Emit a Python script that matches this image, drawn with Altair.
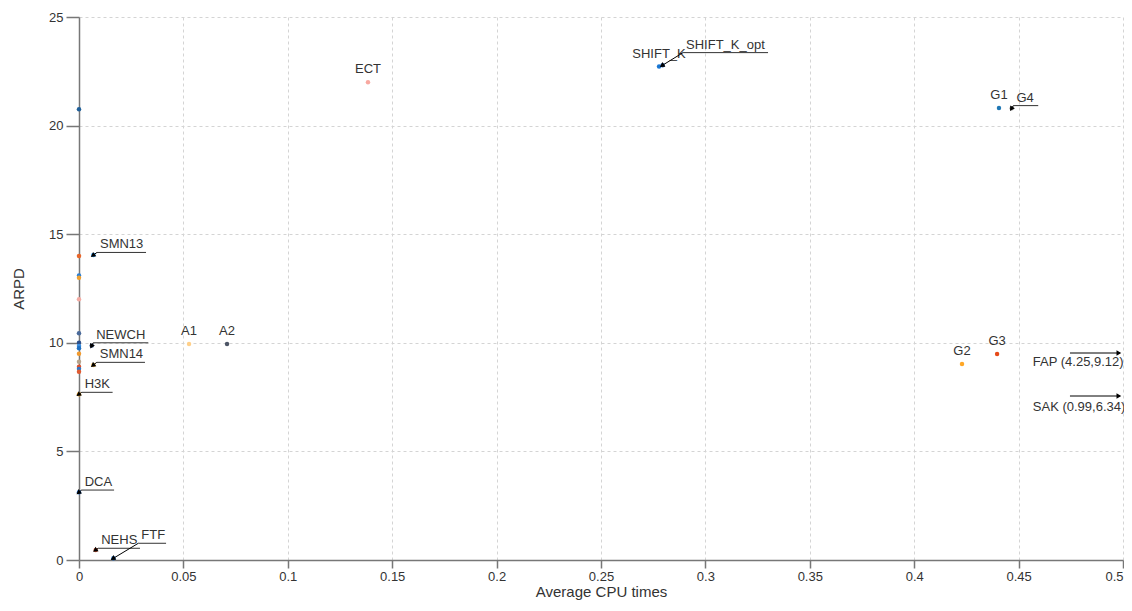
import math
import altair as alt
import pandas as pd

# ---- data ----
names = ["", "", "", "", "", "", "", "", "", "", "", "", "", "", "H3K", "DCA",
         "SMN13", "NEWCH", "SMN14", "NEHS", "FTF", "A1", "A2", "ECT",
         "SHIFT_K", "SHIFT_K_opt", "G1", "G4", "G2", "G3"]
cpu = [0, 0, 0, 0, 0, 0, 0, 0, 0, 0, 0, 0, 0, 0, 0, 0,
       0.0069, 0.0061, 0.0069, 0.0080, 0.0165, 0.0527, 0.0709, 0.1384,
       0.2778, 0.2795, 0.4406, 0.4467, 0.4229, 0.4397]
arpd = [20.75, 14.0, 13.1, 13.0, 12.0, 10.44, 10.0, 9.85, 9.75, 9.5, 9.13, 8.9, 8.8, 8.67, 7.63, 3.12,
        14.04, 9.87, 8.98, 0.46, 0.08, 9.94, 9.94, 22.0,
        22.72, 22.78, 20.81, 20.80, 9.02, 9.48]
colors = ["#1f5f99", "#e8662a", "#2a7fd4", "#f0a030", "#f4aaa2", "#4a6a9a", "#2c4f8a", "#3a8ee0", "#1f6fc0",
          "#f29a2e", "#b8a48c", "#e0502a", "#2f78c8", "#e05a30", "#f5a623", "#1e6fd9",
          "#2196f3", "#2c4f8a", "#ffc04d", "#e0603a", "#1565c0", "#ffd08a", "#4d5566", "#f8a8a0",
          "#1976d2", "#1e5fb0", "#1f77b4", "#a0a0a0", "#ffa726", "#e64a19"]

plain_labels = ["A1", "A2", "ECT", "SHIFT_K", "G1", "G2", "G3"]

ann_names = ["SMN13", "NEWCH", "SMN14", "H3K", "DCA", "NEHS", "FTF", "SHIFT_K_opt", "G4"]
ann_x0 = [0.0086, 0.0068, 0.0085, 0.0013, 0.0013, 0.0092, 0.0284, 0.2893, 0.4475]
ann_x1 = [0.0321, 0.0332, 0.0316, 0.0161, 0.0168, 0.0292, 0.0417, 0.3300, 0.4594]
ann_y = [14.16, 10.00, 9.10, 7.72, 3.22, 0.54, 0.77, 23.36, 20.92]

off_text = ["FAP (4.25,9.12)", "SAK (0.99,6.34)"]
off_x0 = [0.4746, 0.4746]
off_x1 = [0.4986, 0.4986]
off_y = [9.53, 7.55]
off_tx = [0.4568, 0.4568]
off_ty = [9.12, 7.04]

x_ticks = [0, 0.05, 0.1, 0.15, 0.2, 0.25, 0.3, 0.35, 0.4, 0.45, 0.5]
y_ticks = [0, 5, 10, 15, 20, 25]
X_DOMAIN = [0, 0.5]
Y_DOMAIN = [0, 25]

W, H = 1044, 543
FONT = "Liberation Sans"

pts = pd.DataFrame({"name": names, "cpu": cpu, "arpd": arpd, "color": colors})
lookup = {n: (c, a) for n, c, a in zip(names, cpu, arpd) if n}

plain = pts[pts["name"].isin(plain_labels)]

px_per_x = W / (X_DOMAIN[1] - X_DOMAIN[0])
px_per_y = H / (Y_DOMAIN[1] - Y_DOMAIN[0])

rows = []
for n, x0, x1, y in zip(ann_names, ann_x0, ann_x1, ann_y):
    tx, ty = lookup[n]
    dx = (tx - x0) * px_per_x
    dy = -(ty - y) * px_per_y
    ang = math.degrees(math.atan2(dx, -dy)) % 360
    rows.append({"name": n, "x0": x0, "x1": x1, "y": y, "tx": tx, "ty": ty, "angle": ang})
ann = pd.DataFrame(rows)

off = pd.DataFrame({"text": off_text, "x0": off_x0, "x1": off_x1, "y": off_y,
                    "tx": off_tx, "ty": off_ty, "angle": [90, 90]})

xs = alt.Scale(domain=X_DOMAIN, nice=False, zero=False)
ys = alt.Scale(domain=Y_DOMAIN, nice=False, zero=False)

x_axis = alt.Axis(values=x_ticks, format="~g", title="Average CPU times", grid=True,
                  gridDash=[3, 3], gridColor="#d4d4d4", domainColor="#777", tickColor="#777",
                  domainWidth=1.5, tickWidth=1.5, tickSize=8, labelFontSize=13, titleFontSize=15,
                  labelColor="#333", titleColor="#333", labelFont=FONT, titleFont=FONT,
                  titleFontWeight="normal", labelPadding=2, titlePadding=1, labelFlush=False,
                  labelAlign={"condition": {"test": "datum.value >= 0.5", "value": "right"},
                              "value": "center"})
y_axis = alt.Axis(values=y_ticks, title="ARPD", grid=True,
                  gridDash=[3, 3], gridColor="#d4d4d4", domainColor="#777", tickColor="#777",
                  domainWidth=1.5, tickWidth=1.5, tickSize=13, labelFontSize=13, titleFontSize=15,
                  labelColor="#333", titleColor="#333", labelFont=FONT, titleFont=FONT,
                  titleFontWeight="normal", labelPadding=3, titlePadding=22, labelFlush=False)

points = alt.Chart(pts).mark_circle(size=20, opacity=1).encode(
    x=alt.X("cpu:Q", scale=xs, axis=x_axis),
    y=alt.Y("arpd:Q", scale=ys, axis=y_axis),
    color=alt.Color("color:N", scale=None),
)

plain_text = alt.Chart(plain).mark_text(font=FONT, fontSize=13, color="#333", dy=-13).encode(
    x=alt.X("cpu:Q", scale=xs), y=alt.Y("arpd:Q", scale=ys), text="name:N")

underline = alt.Chart(ann).mark_rule(color="#333", strokeWidth=1).encode(
    x=alt.X("x0:Q", scale=xs), x2="x1:Q", y=alt.Y("y:Q", scale=ys))

arrow_line = alt.Chart(ann).mark_rule(color="#000", strokeWidth=1).encode(
    x=alt.X("x0:Q", scale=xs), x2="tx:Q", y=alt.Y("y:Q", scale=ys), y2="ty:Q")

arrow_head = alt.Chart(ann).mark_point(shape="triangle", filled=True, size=30, color="#000", opacity=1).encode(
    x=alt.X("tx:Q", scale=xs), y=alt.Y("ty:Q", scale=ys), angle=alt.Angle("angle:Q", scale=None))

ann_text = alt.Chart(ann).mark_text(font=FONT, fontSize=13, color="#333", align="left",
                                    baseline="bottom", dx=3, dy=-1).encode(
    x=alt.X("x0:Q", scale=xs), y=alt.Y("y:Q", scale=ys), text="name:N")

off_line = alt.Chart(off).mark_rule(color="#000", strokeWidth=1).encode(
    x=alt.X("x0:Q", scale=xs), x2="x1:Q", y=alt.Y("y:Q", scale=ys))
off_head = alt.Chart(off).mark_point(shape="triangle", filled=True, size=30, color="#000",
                                     opacity=1, xOffset=-2).encode(
    x=alt.X("x1:Q", scale=xs), y=alt.Y("y:Q", scale=ys), angle=alt.Angle("angle:Q", scale=None))
off_label = alt.Chart(off).mark_text(font=FONT, fontSize=13, color="#333", align="left",
                                     baseline="middle").encode(
    x=alt.X("tx:Q", scale=xs), y=alt.Y("ty:Q", scale=ys), text="text:N")

chart = alt.layer(points, plain_text, underline, arrow_line, arrow_head, ann_text,
                  off_line, off_head, off_label).properties(
    width=W, height=H,
    autosize=alt.AutoSizeParams(type="none"),
    padding={"left": 71, "top": 9, "right": 1, "bottom": 43},
).configure_view(stroke=None)

chart.save("out.html", embed_options={"renderer": "svg", "actions": False})
